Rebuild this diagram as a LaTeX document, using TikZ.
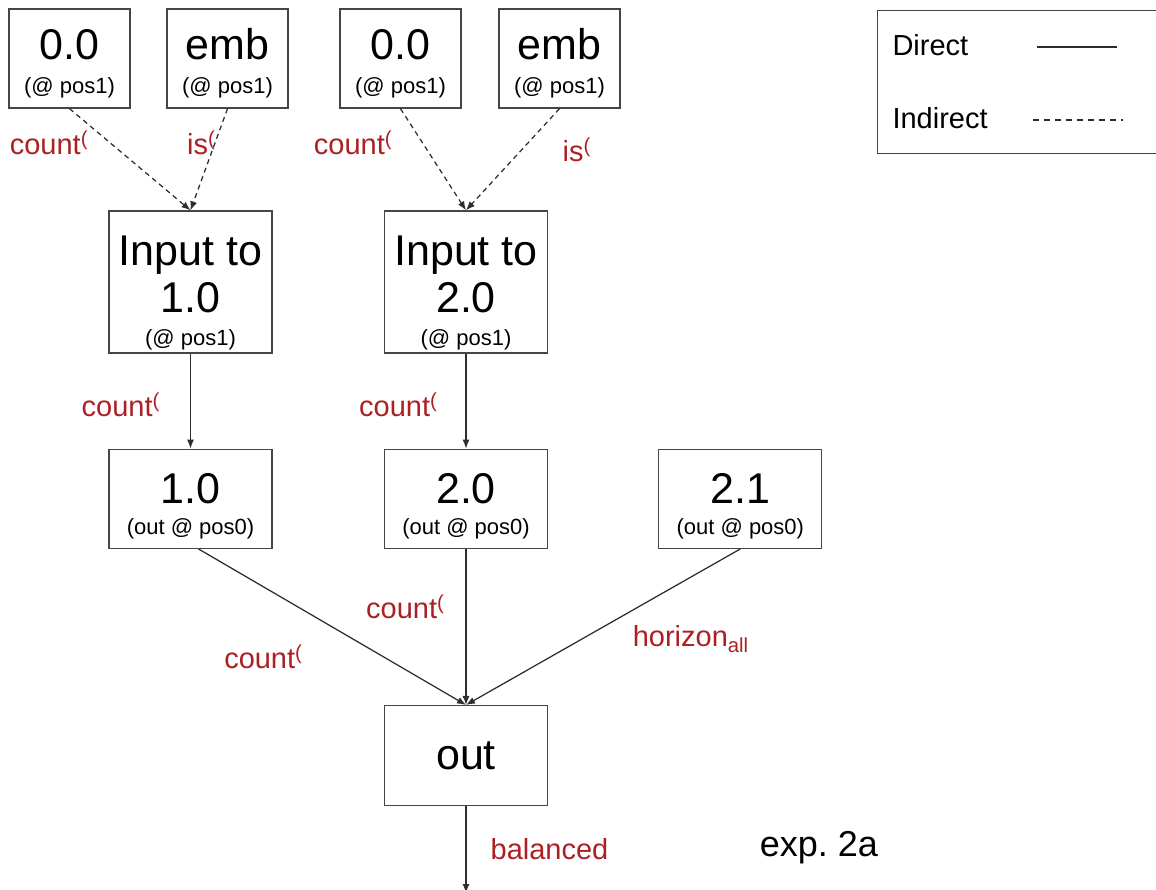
\documentclass[tikz,border=0pt]{standalone}
\usepackage{fontspec}
\setmainfont{Liberation Sans}
\usepackage{tikz}
\usetikzlibrary{positioning, arrows.meta}

\definecolor{boxgray}{RGB}{70,70,70}
\definecolor{edgegray}{RGB}{45,45,45}
\definecolor{lblred}{RGB}{172,32,36}

\newcommand{\bigtxt}{\fontsize{43}{50}\selectfont}
\newcommand{\posnote}{\fontsize{22}{30}\selectfont}
\newcommand{\lbltxt}{\fontsize{29}{35}\selectfont}
\newcommand{\cnt}{count\textsuperscript{(}}
\newcommand{\padtop}[1]{\rule{0pt}{#1}}

\begin{document}
\begin{tikzpicture}[
  x=1pt, y=-1pt,
  box/.style={draw=boxgray, line width=1.3pt, inner sep=0pt, align=center,
    font=\bigtxt},
  srcbox/.style={box, minimum width=121pt, minimum height=99pt},
  widebox/.style={box, minimum width=163pt, minimum height=99pt},
  lbl/.style={text=lblred, font=\lbltxt, inner sep=0pt},
  arrow/.style={-{Latex[length=9pt,width=7pt]}, line width=1.25pt, draw=edgegray},
  dep/.style={arrow, dash pattern=on 5pt off 4pt},
]
  \useasboundingbox (0,0) rectangle (1156,890);

  % Sources at pos1
  \node[srcbox] (z1) at (69.5,58.5)  {\padtop{41pt}0.0\\[-16pt]\posnote (@ pos1)};
  \node[srcbox] (e1) at (227.5,58.5) {\padtop{41pt}emb\\[-16pt]\posnote (@ pos1)};
  \node[srcbox] (z2) at (400.5,58.5) {\padtop{41pt}0.0\\[-16pt]\posnote (@ pos1)};
  \node[srcbox] (e2) at (559.5,58.5) {\padtop{41pt}emb\\[-16pt]\posnote (@ pos1)};

  % Head inputs
  \node[widebox, minimum height=142pt] (in1) at (190.5,282)
    {\padtop{51pt}Input to\\[-3pt]1.0\\[-17pt]\posnote (@ pos1)};
  \node[widebox, minimum height=142pt] (in2) at (466,282)
    {\padtop{51pt}Input to\\[-3pt]2.0\\[-17pt]\posnote (@ pos1)};

  % Head outputs
  \node[widebox, below=95pt of in1] (h10) {\padtop{44pt}1.0\\[-19pt]\posnote (out @ pos0)};
  \node[widebox, below=95pt of in2] (h20) {\padtop{44pt}2.0\\[-19pt]\posnote (out @ pos0)};
  \node[widebox, right=110pt of h20] (h21) {\padtop{44pt}2.1\\[-19pt]\posnote (out @ pos0)};

  \node[widebox, minimum height=100pt, below=156pt of h20] (out) {out};
  \coordinate (exit) at (466,893);

  % Indirect paths
  \draw[dep] (z1.south) -- node[lbl, pos=0.34, left=22pt] {\cnt} (in1.north);
  \draw[dep] (e1.south) -- node[lbl, pos=0.34, anchor=east, xshift=1pt] {is\textsuperscript{(}} (in1.north);
  \draw[dep] (z2.south) -- node[lbl, pos=0.34, left=30pt] {\cnt} (in2.north);
  \draw[dep] (e2.south) -- node[lbl, pos=0.40, right=40pt] {is\textsuperscript{(}} (in2.north);

  % Direct paths
  \draw[arrow] (in1) -- node[lbl, pos=0.54, left=30pt] {\cnt} (h10);
  \draw[arrow] (in2) -- node[lbl, pos=0.54, left=28pt] {\cnt} (h20);
  \draw[arrow] ([xshift=8pt]h10.south) -- node[lbl, pos=0.69, left=80pt] {\cnt} (out.north);
  \draw[arrow] (h20) -- node[lbl, pos=0.37, left=21pt] {\cnt} (out);
  \draw[arrow] (h21.south) -- node[lbl, pos=0.58, right=51pt] {horizon\textsubscript{all}} (out.north);
  \draw[arrow] (out) -- node[lbl, pos=0.5, right=24pt] {balanced} (exit);

  \node[font=\fontsize{36}{42}\selectfont] (tag) at (819,848) {exp.\ 2a};

  % Legend
  \node[draw=boxgray, line width=1.3pt, anchor=north west, minimum width=320pt,
    minimum height=143pt] (legend) at (877,10) {};
  \node[font=\lbltxt, anchor=west] (ldir) at (889,45) {Direct};
  \node[font=\lbltxt, anchor=west] (lind) at (889,118) {Indirect};
  \coordinate (d1) at (1037,47);  \coordinate (d2) at (1117,47);
  \coordinate (i1) at (1033,120); \coordinate (i2) at (1123,120);
  \draw[edgegray, line width=1.1pt] (d1) -- (d2);
  \draw[edgegray, line width=1.1pt, dash pattern=on 6pt off 5pt] (i1) -- (i2);
\end{tikzpicture}
\end{document}
